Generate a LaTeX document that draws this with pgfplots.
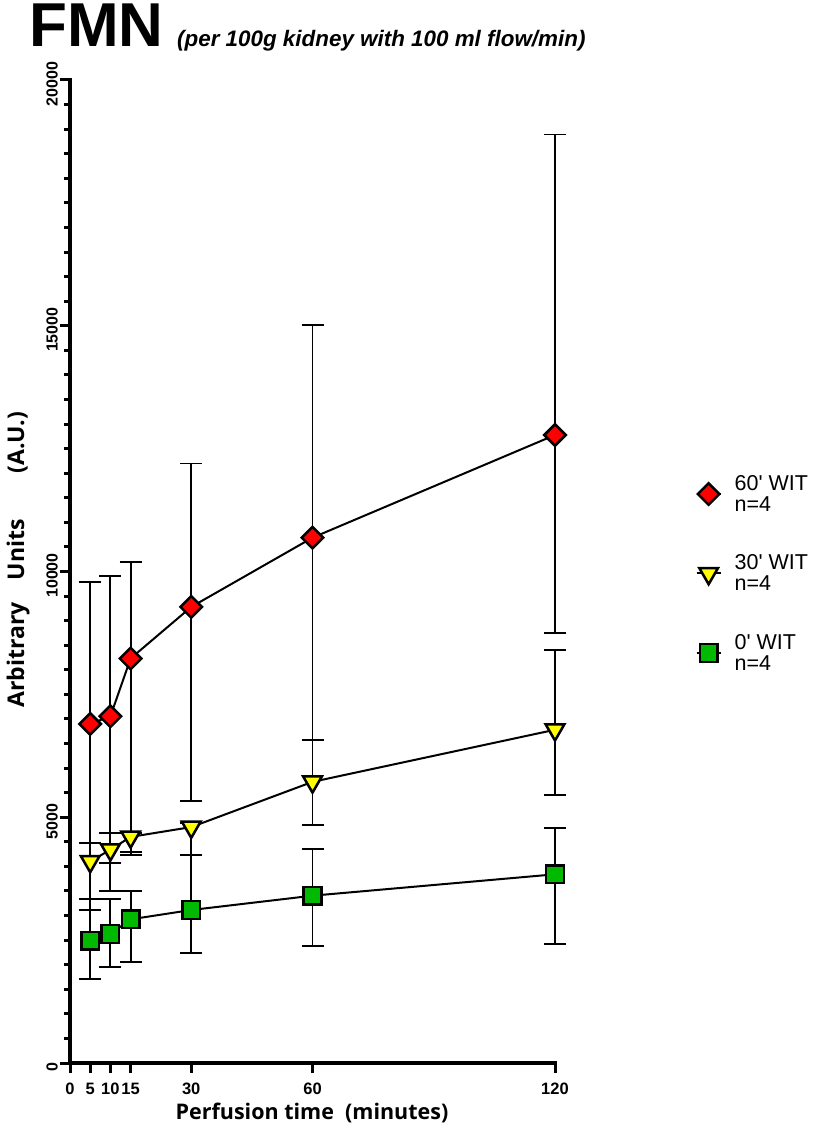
\documentclass[border=0pt]{standalone}
\usepackage{fontspec}
\usepackage{pgfplots}
\pgfplotsset{compat=1.18}
\newfontfamily\arial{Liberation Sans}
\newfontfamily\osans{Open Sans}
\definecolor{mred}{RGB}{255,0,0}
\definecolor{myel}{RGB}{255,255,0}
\definecolor{mgrn}{RGB}{0,185,0}
\begin{document}
\begin{tikzpicture}[x=1pt,y=1pt]
\useasboundingbox (0,0) rectangle (813,1135);
\node[anchor=base west, inner sep=0pt, font=\arial\bfseries\fontsize{62}{62}\selectfont] at (29,1088) {FMN};
\node[anchor=base west, inner sep=0pt, font=\arial\bfseries\itshape\fontsize{22.4}{22}\selectfont] at (177,1088) {(per 100g kidney with 100 ml flow/min)};
\begin{axis}[
  at={(70pt,72pt)}, anchor=south west,
  scale only axis, width=485pt, height=983pt,
  xmin=0, xmax=120, ymin=0, ymax=20000,
  axis x line=bottom, axis y line=left,
  axis line style={line width=3.5pt, black, -, line cap=rect},
  xtick={0,5,10,15,30,60,120},
  ytick={0,5000,10000,15000,20000},
  minor y tick num=9,
  scaled y ticks=false,
  tick align=outside,
  major tick length=10pt, minor tick length=6pt,
  tick style={black, line width=3pt},
  /pgf/number format/assume math mode=true,
  /pgf/number format/1000 sep={},
  xticklabel style={font=\arial\bfseries\fontsize{16.5}{16}\selectfont, inner sep=2pt, yshift=-8pt},
  yticklabel style={font=\arial\bfseries\fontsize{16}{16}\selectfont, rotate=90, anchor=south, inner sep=2pt, xshift=-4pt},
  xlabel={Perfusion time\ \ (minutes)},
  ylabel={Arbitrary\hspace{22pt}Units\hspace{46pt}(A.U.)},
  xlabel style={font=\osans\bfseries\fontsize{21.5}{22}\selectfont, at={(axis description cs:0.499,-0.051)}, anchor=center},
  ylabel style={font=\osans\bfseries\fontsize{23}{23}\selectfont, at={(axis description cs:-0.107,0.512)}, anchor=center, rotate=0},
  legend style={at={(axis description cs:1.29,0.600)}, anchor=north west, draw=none, fill=none,
    inner sep=0pt, outer sep=0pt,
    font=\arial\fontsize{21.5}{21}\selectfont, row sep=38pt, cells={align=left, anchor=west},
    /tikz/every odd column/.append style={column sep=11pt}},
  legend image code/.code={\draw[mark repeat=2, mark phase=2, #1] plot coordinates {(0pt,0pt) (12pt,0pt) (24pt,0pt)};},
  clip=false,
]
% error bars
\addplot[only marks, mark=none, forget plot,
  error bars/.cd, y dir=both, y explicit,
  error bar style={line width=1.9pt, black},
  error mark options={rotate=90, mark size=11pt, line width=1.9pt, black}]
  coordinates {
  (5,6898) += (0,2891) -= (0,3568)
  (10,7054) += (0,2858) -= (0,3548)
  (15,8231) += (0,1966) -= (0,3932)
  (30,9279) += (0,2918) -= (0,3942)
  (60,10688) += (0,4322) -= (0,4110)
  (120,12777) += (0,6114) -= (0,4022)
  };
\addplot[only marks, mark=none, forget plot,
  error bars/.cd, y dir=both, y explicit,
  error bar style={line width=1.9pt, black},
  error mark options={rotate=90, mark size=11pt, line width=1.9pt, black}]
  coordinates {
  (5,4100) += (0,370) -= (0,987)
  (10,4340) += (0,346) -= (0,277)
  (15,4600) += (0,80) -= (0,368)
  (30,4800) += (0,80) -= (0,568)
  (60,5720) += (0,858) -= (0,884)
  (120,6780) += (0,1617) -= (0,1327)
  };
\addplot[only marks, mark=none, forget plot,
  error bars/.cd, y dir=both, y explicit,
  error bar style={line width=1.9pt, black},
  error mark options={rotate=90, mark size=11pt, line width=1.9pt, black}]
  coordinates {
  (5,2490) += (0,623) -= (0,781)
  (10,2625) += (0,705) -= (0,672)
  (15,2923) += (0,583) -= (0,874)
  (30,3113) += (0,1119) -= (0,869)
  (60,3404) += (0,956) -= (0,1017)
  (120,3839) += (0,942) -= (0,1412)
  };
% series
\addplot[black, line width=2pt, mark=square*, mark size=7.6pt,
  mark options={rotate=45, fill=mred, draw=black, line width=2.5pt}]
  coordinates {(5,6898) (10,7054) (15,8231) (30,9279) (60,10688) (120,12777)};
\addlegendentry{60' WIT\\n=4}
\addplot[black, line width=2pt, mark=triangle*, mark size=10.8pt,
  mark options={rotate=180, fill=myel, draw=black, line width=2.5pt}]
  coordinates {(5,4100) (10,4340) (15,4600) (30,4800) (60,5720) (120,6780)};
\addlegendentry{30' WIT\\n=4}
\addplot[black, line width=2pt, mark=square*, mark size=8.8pt,
  mark options={fill=mgrn, draw=black, line width=2.5pt}]
  coordinates {(5,2490) (10,2625) (15,2923) (30,3113) (60,3404) (120,3839)};
\addlegendentry{0' WIT\\n=4}
\end{axis}
\end{tikzpicture}
\end{document}
